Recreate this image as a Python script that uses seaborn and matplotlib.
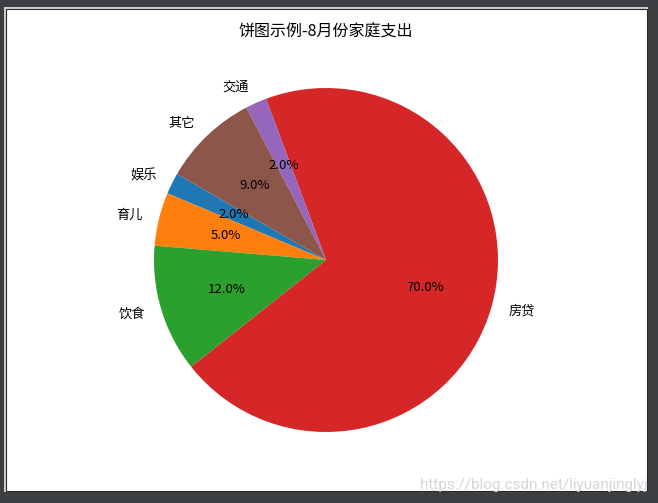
import matplotlib
matplotlib.use("Agg")
import matplotlib.pyplot as plt
from matplotlib.patches import Rectangle
import seaborn as sns

labels = ['娱乐', '育儿', '饮食', '房贷', '交通', '其它']
sizes = [2, 5, 12, 70, 2, 9]
title = '饼图示例-8月份家庭支出'
watermark = 'https://blog.csdn.net/liyuanjinglyj'

sns.set_style('white')
plt.rcParams['font.family'] = ['Noto Sans CJK SC', 'DejaVu Sans']
plt.rcParams['axes.unicode_minus'] = False
plt.rcParams['text.color'] = 'black'

colors = sns.color_palette('tab10', 6)

W, H = 658, 503
fig = plt.figure(figsize=(W / 100, H / 100), dpi=100, facecolor='#3c3f41')

def fr(x0, y0, x1, y1):
    return (x0 / W, 1 - y1 / H), (x1 - x0) / W, (y1 - y0) / H

xy, w, h = fr(4, 7, 648, 492)
fig.patches.append(Rectangle(xy, w, h, transform=fig.transFigure, facecolor='#cfcfcf',
                             edgecolor='none', zorder=-2))
xy, w, h = fr(5.5, 8.5, 646.5, 490.5)
fig.patches.append(Rectangle(xy, w, h, transform=fig.transFigure, facecolor='white',
                             edgecolor='#2a2a2a', linewidth=0.8, zorder=-1))

cx, cy, r = 326, 260, 172
half = 1.25 * r
ax = fig.add_axes([(cx - half) / W, 1 - (cy + half) / H, 2 * half / W, 2 * half / H])
ax.set_facecolor('none')

wedges, texts, autotexts = ax.pie(sizes, labels=labels, colors=colors, autopct='%1.1f%%',
                                  startangle=150, wedgeprops={'linewidth': 0},
                                  textprops={'fontsize': 9.5, 'color': 'black'})
ax.set_title(title, fontsize=11.5, pad=6, color='black')
ax.axis('equal')
ax.set_xlim(-1.25, 1.25)
ax.set_ylim(-1.25, 1.25)

fig.text(648 / W, 1 - 489 / H, watermark, ha='right', va='baseline', fontsize=11,
         color='#d6d6d6', family=['Roboto', 'DejaVu Sans'])

fig.savefig('out.png', dpi=100, facecolor=fig.get_facecolor())
